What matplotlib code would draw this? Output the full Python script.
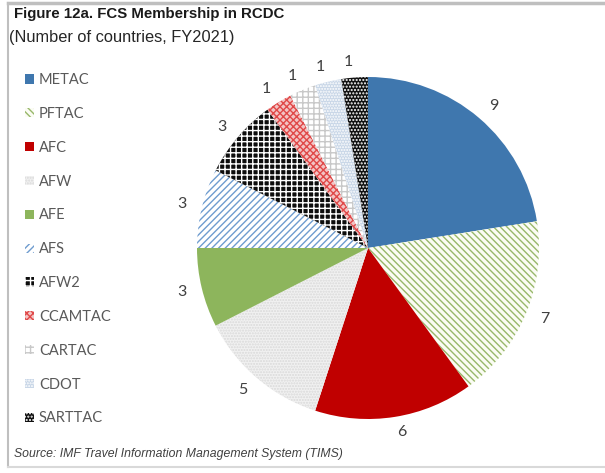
import matplotlib.pyplot as plt
from matplotlib.lines import Line2D

plt.rcParams['hatch.linewidth'] = 1.0

# data
centres = ['METAC', 'PFTAC', 'AFC', 'AFW', 'AFE', 'AFS', 'AFW2',
           'CCAMTAC', 'CARTAC', 'CDOT', 'SARTTAC']
members = [9, 7, 6, 5, 3, 3, 3, 1, 1, 1, 1]

# fill, hatch, hatch colour for each slice
faces = ['#3F77AE', '#FBFCF4', '#C00000', '#F1F1F1', '#8DB55C', '#FFFFFF',
         '#0D0D0D', '#F3C4C4', '#FFFFFF', '#C8D6E7', '#111111']
hatches = [None, '\\\\\\\\\\', None, '......', None, '/////', '+++',
           'xxxxx', '+++', '......', '.....']
hatch_cols = ['#3F77AE', '#98B86A', '#C00000', '#D9D9D9', '#8DB55C',
              '#6E9CCF', '#FFFFFF', '#E04848', '#C8C8C8', '#FFFFFF', '#FFFFFF']

fig = plt.figure(figsize=(6.05, 4.73), dpi=100)

# frame around the exhibit
fig.add_artist(Line2D([8/605, 8/605], [6/473, 470/473], color='#BFBFBF', lw=1.5))
fig.add_artist(Line2D([8/605, 1], [470/473, 470/473], color='#BFBFBF', lw=2.5))
fig.add_artist(Line2D([8/605, 1], [6/473, 6/473], color='#D9D9D9', lw=1.5))

# pie
r = 171
cx, cy = 368, 248
ax = fig.add_axes([(cx - r) / 605, (473 - cy - r) / 473, 2 * r / 605, 2 * r / 473])
wedges, texts = ax.pie(members, labels=[str(v) for v in members],
                       startangle=90, counterclock=False, labeldistance=1.09,
                       textprops=dict(fontsize=11.5, color='#404040', family='Lato'),
                       wedgeprops=dict(linewidth=0))
for w, fc, h, hc in zip(wedges, faces, hatches, hatch_cols):
    w.set_facecolor(fc)
    w.set_edgecolor(hc)
    if h:
        w.set_hatch(h)
ax.set_xlim(-1, 1)
ax.set_ylim(-1, 1)
ax.axis('off')

leg = fig.legend(wedges, centres, loc='upper left', bbox_to_anchor=(12/605, 1 - 60/473),
                 frameon=False, handlelength=0.6, handleheight=0.6, handletextpad=0.35,
                 labelspacing=1.36, prop=dict(family='Lato', size=10.5))
for t in leg.get_texts():
    t.set_color('#595959')

fig.text(14/605, 1 - 18/473, 'Figure 12a. FCS Membership in RCDC', fontsize=10.8,
         fontweight='bold', family='Liberation Sans', color='#1A1A1A')
fig.text(9/605, 1 - 42/473, '(Number of countries, FY2021)', fontsize=11.8,
         family='Liberation Sans', color='#262626')
fig.text(14/605, 1 - 457/473, 'Source: IMF Travel Information Management System (TIMS)',
         fontsize=8.8, style='italic', family='Liberation Sans', color='#404040')

fig.savefig('out.png', dpi=100)
